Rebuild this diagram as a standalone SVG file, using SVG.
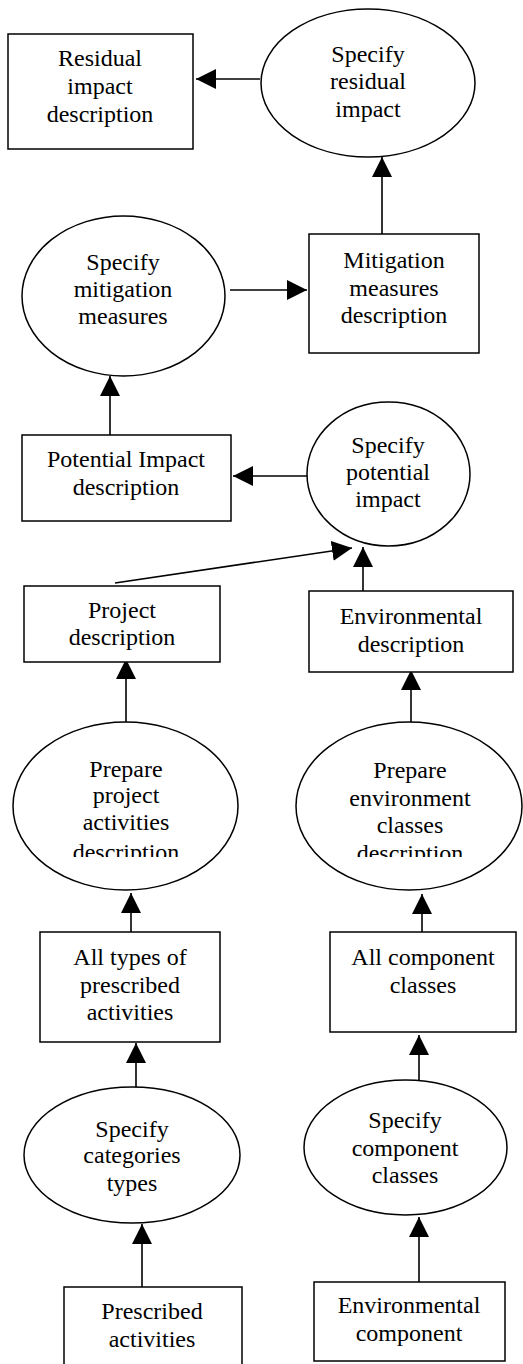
<svg xmlns="http://www.w3.org/2000/svg" width="523" height="1364" viewBox="0 0 523 1364">
<style>
.s{fill:#fff;stroke:#000;stroke-width:1.5}
.c line{stroke:#000;stroke-width:1.6;marker-end:url(#ah)}
text{font-family:"Liberation Serif","Times New Roman",serif;font-size:24px;fill:#000;text-anchor:middle}
</style>
<defs>
<marker id="ah" markerUnits="userSpaceOnUse" markerWidth="20" markerHeight="20" refX="20" refY="10" orient="auto">
<path d="M0,0 L20,10 L0,20 Z" fill="#000"/>
</marker>
<clipPath id="clipL"><rect x="0" y="700" width="523" height="157"/></clipPath>
</defs>
<rect width="523" height="1364" fill="#fff"/>
<g class="c" id="connectors">
<line x1="260" y1="79" x2="196" y2="79"/>
<line x1="382" y1="234" x2="382" y2="157"/>
<line x1="230" y1="290" x2="307" y2="290"/>
<line x1="110" y1="435" x2="110" y2="376"/>
<line x1="307" y1="476" x2="233" y2="476"/>
<line x1="115" y1="583" x2="352" y2="548"/>
<line x1="363" y1="591" x2="363" y2="547"/>
<line x1="126" y1="722" x2="126" y2="659"/>
<line x1="411" y1="723" x2="411" y2="670"/>
<line x1="131" y1="932" x2="131" y2="893"/>
<line x1="422" y1="932" x2="422" y2="894"/>
<line x1="136" y1="1087" x2="136" y2="1043"/>
<line x1="419" y1="1080" x2="419" y2="1035"/>
<line x1="142" y1="1287" x2="142" y2="1224"/>
<line x1="419" y1="1282" x2="419" y2="1217"/>
</g>
<g id="residual-desc"><rect class="s" x="8" y="34" width="185" height="115"/>
<text x="100" y="66">Residual</text><text x="100" y="94">impact</text><text x="100" y="122">description</text></g>
<g id="specify-residual"><ellipse class="s" cx="368" cy="83" rx="107" ry="74"/>
<text x="368" y="62">Specify</text><text x="368" y="89">residual</text><text x="368" y="117">impact</text></g>
<g id="specify-mitigation"><ellipse class="s" cx="123.5" cy="296" rx="101.5" ry="80"/>
<text x="123" y="270">Specify</text><text x="123" y="297">mitigation</text><text x="123" y="324">measures</text></g>
<g id="mitigation-desc"><rect class="s" x="309" y="234" width="170" height="119"/>
<text x="394" y="268">Mitigation</text><text x="394" y="296">measures</text><text x="394" y="323">description</text></g>
<g id="potential-desc"><rect class="s" x="22" y="435" width="209" height="86"/>
<text x="126" y="467">Potential Impact</text><text x="126" y="495">description</text></g>
<g id="specify-potential"><ellipse class="s" cx="388.5" cy="474" rx="81.5" ry="72"/>
<text x="388" y="453">Specify</text><text x="388" y="480">potential</text><text x="388" y="507">impact</text></g>
<g id="project-desc"><rect class="s" x="24" y="586" width="196" height="76"/>
<text x="122" y="618">Project</text><text x="122" y="645">description</text></g>
<g id="environmental-desc"><rect class="s" x="309" y="591" width="204" height="81"/>
<text x="411" y="624">Environmental</text><text x="411" y="652">description</text></g>
<g id="prepare-project"><ellipse class="s" cx="125.5" cy="806" rx="112.5" ry="84"/>
<text x="126" y="777">Prepare</text><text x="126" y="803">project</text><text x="126" y="830">activities</text><text x="126" y="860" clip-path="url(#clipL)">description</text></g>
<g id="prepare-environment"><ellipse class="s" cx="409" cy="806" rx="113" ry="84"/>
<text x="410" y="778">Prepare</text><text x="410" y="806">environment</text><text x="410" y="833">classes</text><text x="410" y="861" clip-path="url(#clipL)">description</text></g>
<g id="all-types"><rect class="s" x="40" y="932" width="180" height="110"/>
<text x="130" y="965">All types of</text><text x="130" y="993">prescribed</text><text x="130" y="1020">activities</text></g>
<g id="all-component"><rect class="s" x="330" y="932" width="186" height="100"/>
<text x="423" y="965">All component</text><text x="423" y="993">classes</text></g>
<g id="specify-categories"><ellipse class="s" cx="132" cy="1155" rx="108" ry="68"/>
<text x="132" y="1137">Specify</text><text x="132" y="1163">categories</text><text x="132" y="1191">types</text></g>
<g id="specify-component"><ellipse class="s" cx="405.5" cy="1147.5" rx="101.5" ry="67.5"/>
<text x="405" y="1128">Specify</text><text x="405" y="1156">component</text><text x="405" y="1183">classes</text></g>
<g id="prescribed"><rect class="s" x="64" y="1287" width="178" height="90"/>
<text x="152" y="1319">Prescribed</text><text x="152" y="1347">activities</text></g>
<g id="environmental-component"><rect class="s" x="314" y="1282" width="191" height="79"/>
<text x="409" y="1313">Environmental</text><text x="409" y="1341">component</text></g>
</svg>
